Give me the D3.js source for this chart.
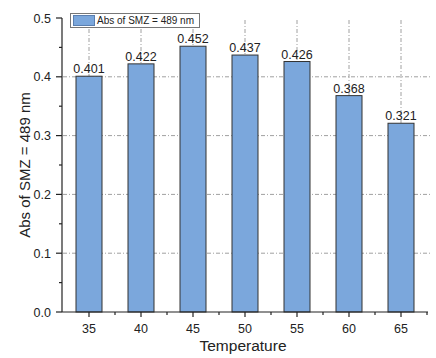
<!DOCTYPE html>
<html>
<head>
<meta charset="utf-8">
<script src="https://cdn.jsdelivr.net/npm/d3@7"></script>
<style>
  html, body { margin: 0; padding: 0; background: #fff; }
  svg { display: block; font-family: "Liberation Sans", Arial, sans-serif; }
</style>
</head>
<body>
<svg id="chart" width="436" height="358"></svg>
<script>
const categories = ["35", "40", "45", "50", "55", "60", "65"];
const values = [0.401, 0.422, 0.452, 0.437, 0.426, 0.368, 0.321];
const yTicks = [0.0, 0.1, 0.2, 0.3, 0.4, 0.5];
const yMinorTicks = [0.05, 0.15, 0.25, 0.35, 0.45];
const gridValues = [0.1, 0.2, 0.3, 0.4];
const seriesName = "Abs of SMZ = 489 nm";
const xTitle = "Temperature";
const yTitle = "Abs of SMZ = 489 nm";

const svg = d3.select("#chart");
const m = { left: 63, right: 427, top: 18, bottom: 312 };

const x = d3.scaleBand().domain(categories).range([m.left, m.right]).paddingInner(0.5).paddingOuter(0.25);
const y = d3.scaleLinear().domain([0, 0.5]).range([m.bottom, m.top]);

const gridColor = "#a0a0a0";
const dash = "4,2,1,2";

// horizontal grid
svg.append("g").selectAll("line").data(gridValues).join("line")
  .attr("x1", m.left).attr("x2", m.right + 3)
  .attr("y1", d => y(d)).attr("y2", d => y(d))
  .attr("stroke", gridColor).attr("stroke-width", 1).attr("stroke-dasharray", dash);

// vertical grid
svg.append("g").selectAll("line").data(categories).join("line")
  .attr("x1", d => x(d) + x.bandwidth() / 2).attr("x2", d => x(d) + x.bandwidth() / 2)
  .attr("y1", m.top + 2).attr("y2", m.bottom)
  .attr("stroke", gridColor).attr("stroke-width", 1).attr("stroke-dasharray", dash);

// bars
svg.append("g").selectAll("rect").data(values).join("rect")
  .attr("x", (d, i) => x(categories[i]))
  .attr("y", d => y(d))
  .attr("width", x.bandwidth())
  .attr("height", d => y(0) - y(d))
  .attr("fill", "#7ba7dc")
  .attr("stroke", "#333")
  .attr("stroke-width", 1);

// value labels
svg.append("g").selectAll("text").data(values).join("text")
  .attr("x", (d, i) => x(categories[i]) + x.bandwidth() / 2)
  .attr("y", d => y(d) - 3)
  .attr("text-anchor", "middle")
  .attr("font-size", 12.5)
  .attr("fill", "#222")
  .text(d => d.toFixed(3));

// x axis
const xAxis = svg.append("g");
xAxis.append("line").attr("x1", m.left - 1).attr("x2", m.right + 1)
  .attr("y1", y(0)).attr("y2", y(0)).attr("stroke", "#222").attr("stroke-width", 1.2);
xAxis.selectAll(".maj").data(categories).join("line").attr("class", "maj")
  .attr("x1", d => x(d) + x.bandwidth() / 2).attr("x2", d => x(d) + x.bandwidth() / 2)
  .attr("y1", y(0)).attr("y2", y(0) + 5).attr("stroke", "#222").attr("stroke-width", 1.2);
const boundaries = categories.map(c => x(c) + x.bandwidth() / 2 + x.step() / 2);
xAxis.selectAll(".min").data(boundaries).join("line").attr("class", "min")
  .attr("x1", d => d).attr("x2", d => d)
  .attr("y1", y(0)).attr("y2", y(0) + 3).attr("stroke", "#222").attr("stroke-width", 1.2);
xAxis.selectAll("text").data(categories).join("text")
  .attr("x", d => x(d) + x.bandwidth() / 2).attr("y", 333)
  .attr("text-anchor", "middle").attr("font-size", 12.5).attr("fill", "#222")
  .text(d => d);

// y axis
const yAxis = svg.append("g");
yAxis.append("line").attr("x1", m.left - 1).attr("x2", m.left - 1)
  .attr("y1", y(0)).attr("y2", y(0.5)).attr("stroke", "#222").attr("stroke-width", 1.2);
yAxis.selectAll(".maj").data(yTicks).join("line").attr("class", "maj")
  .attr("x1", m.left - 7).attr("x2", m.left - 1)
  .attr("y1", d => y(d)).attr("y2", d => y(d)).attr("stroke", "#222").attr("stroke-width", 1.2);
yAxis.selectAll(".min").data(yMinorTicks).join("line").attr("class", "min")
  .attr("x1", m.left - 4).attr("x2", m.left - 1)
  .attr("y1", d => y(d)).attr("y2", d => y(d)).attr("stroke", "#222").attr("stroke-width", 1.2);
yAxis.selectAll("text").data(yTicks).join("text")
  .attr("x", 51).attr("y", d => y(d)).attr("dy", "0.36em")
  .attr("text-anchor", "end").attr("font-size", 12.5).attr("fill", "#222")
  .text(d => d.toFixed(1));

// axis titles
svg.append("text").attr("x", 243).attr("y", 351).attr("text-anchor", "middle")
  .attr("font-size", 15.5).attr("fill", "#222").text(xTitle);
svg.append("text").attr("transform", "translate(30,165) rotate(-90)")
  .attr("text-anchor", "middle").attr("font-size", 15).attr("fill", "#222").text(yTitle);

// legend
const lg = svg.append("g");
lg.append("rect").attr("x", 70.5).attr("y", 13.5).attr("width", 129).attr("height", 14)
  .attr("fill", "#fff").attr("stroke", "#777").attr("stroke-width", 1);
lg.append("rect").attr("x", 73.5).attr("y", 15.5).attr("width", 21).attr("height", 10)
  .attr("fill", "#7ba7dc").attr("stroke", "#5a7fb0").attr("stroke-width", 1);
lg.append("text").attr("x", 97).attr("y", 24).attr("font-size", 10).attr("fill", "#222")
  .text(seriesName);
</script>
</body>
</html>
